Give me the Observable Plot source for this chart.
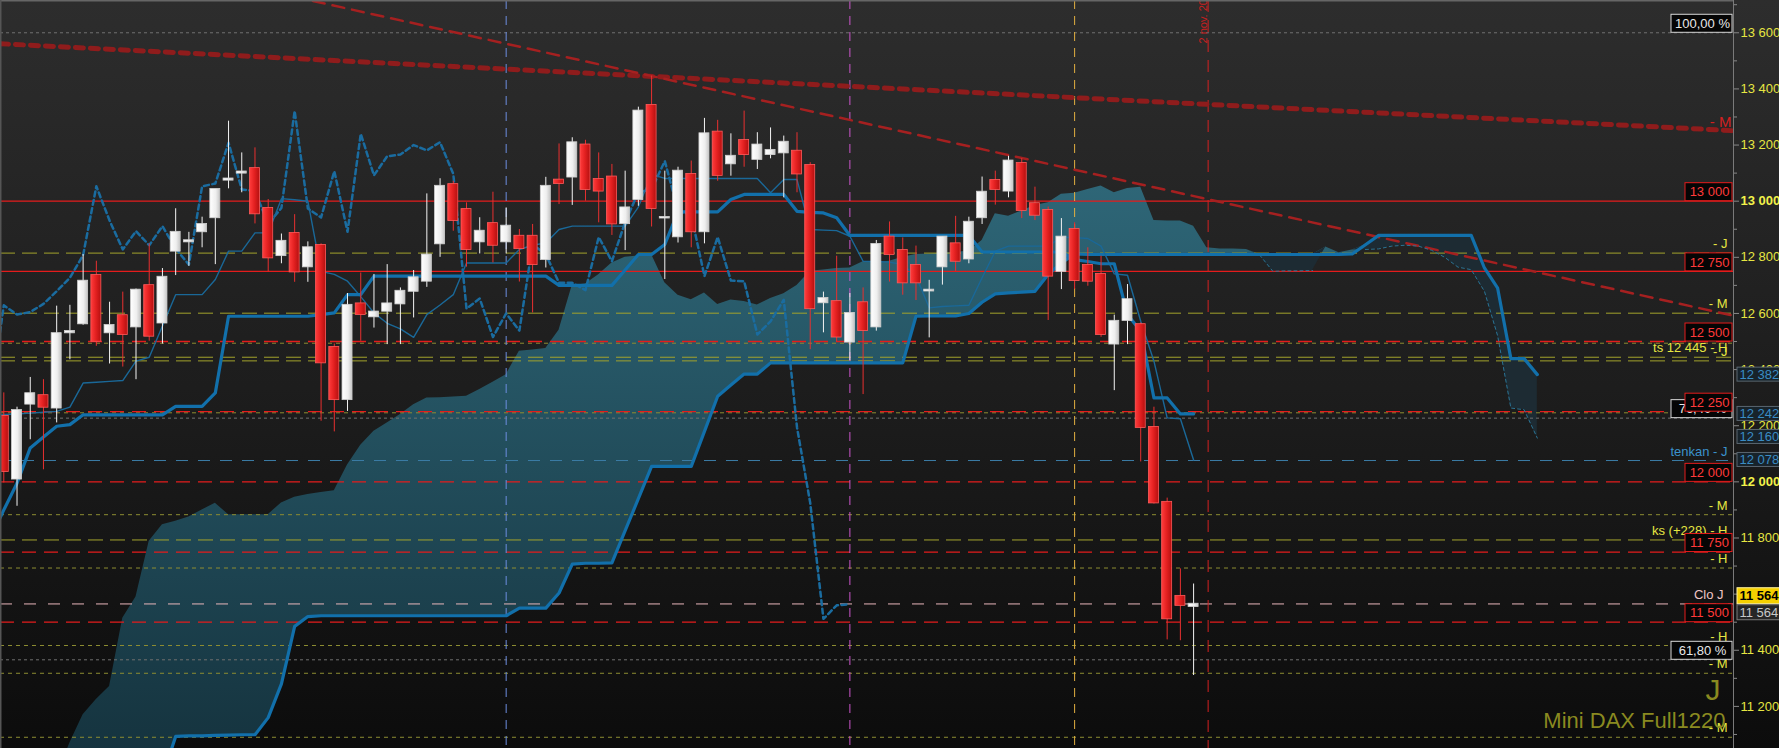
<!DOCTYPE html>
<html>
<head>
<meta charset="utf-8">
<script src="https://cdn.jsdelivr.net/npm/d3@7"></script>
<script src="https://cdn.jsdelivr.net/npm/@observablehq/plot@0.6"></script>
<style>
  html, body { margin: 0; padding: 0; background: #111; overflow: hidden; }
  #chart { width: 1779px; height: 748px; overflow: hidden; }
</style>
</head>
<body>
<div id="chart"></div>
<script>
// daily candles, index 0..90
const opens = [12233,12010,12277,12307,12263,12531,12563,12735,12531,12592,
  12552,12699,12566,12822,12855,12891,12941,13075,13100,13116,
  12974,12806,12885,12766,12842,12479,12293,12634,12588,12608,
  12634,12679,12715,12848,13059,12970,12855,12920,12855,12875,
  12875,12792,13075,13086,13200,13077,13086,12920,13006,13341,
  12940,12873,13095,12891,13246,13133,13216,13149,13166,13172,
  13178,13127,12638,12642,12498,12638,12552,12872,12824,12771,
  12680,12766,12848,12794,12941,13074,13036,13134,12991,12967,
  12750,12899,12771,12739,12491,12575,12560,12194,11927,11592,
  11556];
const highs = [12317,12266,12372,12364,12626,12629,12810,12786,12640,12676,
  12687,12848,12760,12973,12889,12943,13042,13285,13172,13190,
  13006,12883,12952,12855,12848,12491,12671,12744,12739,12774,
  12691,12753,13026,13080,13071,12994,12941,13032,12976,12899,
  12917,13085,13204,13226,13217,13172,13131,13107,13335,13446,
  13107,13121,13143,13295,13288,13240,13321,13244,13261,13232,
  13244,13137,12676,12804,12671,12691,12860,12926,12869,12840,
  12718,12872,12946,12943,13086,13107,13160,13152,13050,12979,
  12938,12923,12834,12804,12594,12703,12566,12266,11942,11690,
  11636];
const lows = [11996,11913,12150,12043,12210,12435,12558,12483,12420,12409,
  12364,12501,12491,12735,12768,12834,12774,13044,13030,12919,
  12748,12777,12711,12711,12216,12178,12251,12501,12548,12489,
  12489,12584,12693,12800,12893,12765,12812,12780,12812,12712,
  12602,12762,12988,12985,13000,12923,12878,12824,12982,12908,
  12721,12851,12834,12848,13071,13089,13121,13113,13151,13012,
  13030,12471,12531,12499,12432,12311,12537,12712,12665,12646,
  12513,12701,12750,12777,12917,12986,13012,12938,12931,12575,
  12685,12685,12697,12515,12325,12489,12071,11921,11437,11434,
  11310];
const closes = [12037,12254,12314,12266,12528,12536,12715,12501,12557,12525,
  12683,12519,12729,12889,12859,12917,13042,13079,13104,12955,
  12798,12857,12748,12834,12424,12293,12629,12596,12605,12634,
  12679,12727,12808,13053,12931,12828,12893,12843,12911,12831,
  12774,13053,13063,13208,13042,13036,12919,12976,13321,12974,
  12942,13107,12891,13240,13092,13160,13166,13200,13181,13210,
  13097,12617,12653,12516,12600,12539,12846,12810,12709,12709,
  12683,12872,12786,12925,13032,13042,13143,12967,12950,12733,
  12872,12717,12715,12525,12572,12649,12194,11925,11512,11560,
  11564];

// tenkan and kijun, index -1..90
const lineStart = -1;
const tenkan = [12235,12240,12242,12245,12248,12251,12266,12352,12355,12358,
  12361,12430,12444,12555,12667,12667,12667,12721,12822,12822,
  12887,12887,13009,13005,13000,12750,12739,12715,12660,12602,
  12565,12545,12515,12596,12630,12667,12780,12780,12780,12780,
  12828,12843,12851,12899,12911,12911,12911,12911,12911,12979,
  13095,13081,13081,13081,13081,13081,13081,13081,13081,13030,
  13077,13077,12899,12897,12895,12875,12786,12785,12783,12774,
  12733,12620,12625,12627,12629,12727,12822,12840,12840,12840,
  12840,12872,12870,12867,12840,12741,12736,12572,12430,12228,
  12225,12078];
const kijun = [11800,11900,11995,12121,12160,12198,12204,12239,12239,12239,
  12239,12239,12239,12239,12269,12269,12269,12317,12590,12590,
  12590,12590,12590,12590,12590,12596,12602,12667,12667,12733,
  12733,12733,12733,12733,12733,12733,12733,12733,12733,12733,
  12733,12733,12733,12700,12700,12700,12700,12700,12755,12810,
  12810,12846,12962,12962,12962,12962,13006,13024,13024,13024,
  13024,12964,12960,12958,12941,12878,12878,12878,12878,12878,
  12878,12878,12878,12878,12878,12819,12819,12819,12819,12819,
  12819,12819,12792,12785,12777,12777,12596,12537,12299,12299,
  12242,12242].slice(0, 92);

// cloud spans, index 4..116
const cloudStart = 4;
const spanA = [10950,11070,11170,11225,11271,11514,11590,11788,11847,11860,
  11875,11900,11924,11883,11883,11883,11883,11925,11945,11955,
  11962,11968,12060,12130,12180,12210,12240,12275,12299,12300,
  12302,12305,12329,12355,12382,12465,12470,12475,12540,12700,
  12705,12738,12780,12800,12805,12810,12709,12665,12649,12673,
  12632,12648,12643,12630,12653,12670,12700,12750,12755,12760,
  12762,12784,12780,12786,12800,12810,12812,12815,12818,12822,
  12860,12955,12946,12965,12985,12994,13025,13028,13042,13054,
  13030,13045,13050,12931,12929,12929,12911,12834,12830,12830,
  12828,12808,12750,12752,12752,12753,12837,12816,12826,12828,
  12830,12840,12843,12840,12825,12800,12765,12756,12679,12520,
  12263,12257,12156];
const spanB = [10950,10950,10950,10950,10950,10950,10950,10950,10950,11093,
  11095,11095,11097,11098,11099,11099,11160,11280,11485,11520,
  11523,11523,11523,11523,11523,11523,11523,11523,11523,11523,
  11523,11523,11523,11523,11523,11550,11550,11550,11604,11707,
  11710,11710,11711,11826,11940,12055,12055,12055,12055,12180,
  12305,12345,12384,12384,12424,12424,12424,12424,12424,12424,
  12424,12424,12424,12424,12424,12590,12591,12591,12591,12600,
  12640,12670,12673,12676,12679,12739,12780,12812,12810,12810,
  12810,12810,12810,12810,12810,12810,12810,12810,12810,12810,
  12810,12810,12810,12810,12810,12810,12810,12810,12812,12845,
  12878,12878,12878,12878,12878,12878,12878,12878,12762,12690,
  12439,12439,12382];

// horizontal levels
const roundSolid = [13000, 12750];
const roundDashed = [12500, 12250, 12000, 11750, 11500];
const pivotLong = [12815, 12601, 12444, 12431, 11793];
const pivotFine = [12494, 12246, 11883, 11693, 11417, 11318, 11090];
const fibLevels = [13600, 12227, 11366];
const fibTexts = ["100,00 %", "76,40 %", "61,80 %"];
const tenkanLevel = [12076];
const closeLevel = [11565];

const pivotTags = [
  {v: 12815, t: "- J"}, {v: 12601, t: "- M"}, {v: 12444, t: "ts 12 445 - H"}, {v: 12431, t: "- J"},
  {v: 11883, t: "- M"}, {v: 11793, t: "ks (+228) - H"}, {v: 11693, t: "- H"},
  {v: 11417, t: "- H"}, {v: 11318, t: "- M"}, {v: 11090, t: "- M"}
];
const ichiTags = [{v: 12382, t: "12 382"}, {v: 12242, t: "12 242"}, {v: 12160, t: "12 160"}, {v: 12078, t: "12 078"}];
const lastPrice = 11564;

// vertical markers (bar index)
const vMarks = [38, 64, 81, 91.1];
const dateText = "2 nov. 2020";

// trend lines: price at left edge and at right edge
const trendLong = [13561, 13251];
const trendShort = [13960, 12592];

const tickMajor = [11200, 11400, 11600, 11800, 12200, 12400, 12600, 12800, 13200, 13400, 13600];
const tickBold = [12000, 13000];
const tickMinor = [11100, 11300, 11500, 11700, 11900, 12100, 12300, 12500, 12700, 12900, 13100, 13300, 13500, 13700];

const xLeft = -0.25, xRight = 130.84;
const fmt = v => d3.format(",")(v).replace(/,/g, " ");

const candles = opens.map((o, i) => ({i, o, h: highs[i], l: lows[i], c: closes[i]}));
const upC = candles.filter(d => d.c >= d.o);
const downC = candles.filter(d => d.c < d.o);
const cloud = spanA.map((a, k) => ({i: k + cloudStart, a, b: spanB[k]}));
const tenkanData = tenkan.map((v, k) => ({i: k + lineStart, v}));
const kijunData = kijun.map((v, k) => ({i: k + lineStart, v}));
const chikouData = closes.slice(25).map((v, k) => ({i: k - 1, v}));
const edge = [xLeft, xRight];
const longData = trendLong.map((v, k) => ({x: edge[k], v}));
const shortData = trendShort.map((v, k) => ({x: edge[k], v}));
const roundTags = roundSolid.concat(roundDashed).map(v => ({v, t: fmt(v)}));
const fibTags = fibLevels.map((v, k) => ({v, t: fibTexts[k]}));

function defs() {
  const d = document.createElementNS("http://www.w3.org/2000/svg", "defs");
  d.innerHTML = `
    <linearGradient id="gRed" x1="0" x2="1" y1="0" y2="0">
      <stop offset="0" stop-color="#ff3c3c"/><stop offset="0.5" stop-color="#e32020"/><stop offset="1" stop-color="#b41010"/>
    </linearGradient>
    <linearGradient id="gWhite" x1="0" x2="1" y1="0" y2="0">
      <stop offset="0" stop-color="#ffffff"/><stop offset="0.6" stop-color="#eeeeee"/><stop offset="1" stop-color="#c6c6c6"/>
    </linearGradient>
    <linearGradient id="gCloud" x1="0" x2="0" y1="0" y2="1">
      <stop offset="0" stop-color="#2e6677"/><stop offset="1" stop-color="#14313c"/>
    </linearGradient>`;
  return d;
}

const rx = () => xRight;
const yellow = "#e6e642";

const chart = Plot.plot({
  width: 1779,
  height: 748,
  marginLeft: 0,
  marginRight: 46,
  marginTop: 0,
  marginBottom: 0,
  x: {type: "linear", domain: [xLeft, xRight], axis: null},
  y: {domain: [11050, 13715], axis: null},
  style: {
    background: "linear-gradient(to bottom, #2d2d2d 0%, #1c1c1c 55%, #0c0c0c 100%)",
    color: yellow,
    fontFamily: "'Liberation Sans', Arial, sans-serif",
    fontSize: "13px"
  },
  marks: [
    defs,
    // cloud
    Plot.areaY(cloud, {x: "i", y1: "b", y2: d => Math.max(d.a, d.b), fill: "url(#gCloud)", clip: true}),
    Plot.areaY(cloud, {x: "i", y1: "a", y2: d => Math.max(d.a, d.b), fill: "#1d2b33", clip: true}),
    // horizontal levels
    Plot.ruleY(fibLevels, {stroke: "#707070", strokeDasharray: "3,3"}),
    Plot.ruleY(pivotFine, {stroke: "#8d8d32", strokeDasharray: "4,4"}),
    Plot.ruleY(pivotLong, {stroke: "#a3a32c", strokeDasharray: "15,7"}),
    Plot.ruleY(tenkanLevel, {stroke: "#3b7ca6", strokeDasharray: "12,10"}),
    Plot.ruleY(closeLevel, {stroke: "#e9b6bc", strokeDasharray: "12,12"}),
    Plot.ruleY(roundDashed, {stroke: "#e41c1c", strokeWidth: 1.3, strokeDasharray: "14,8"}),
    Plot.ruleY(roundSolid, {stroke: "#e41c1c", strokeWidth: 1.3}),
    // vertical markers
    Plot.ruleX([vMarks[0]], {stroke: "#6d8ee0", strokeDasharray: "9,7"}),
    Plot.ruleX([vMarks[1]], {stroke: "#cc55cc", strokeDasharray: "9,7"}),
    Plot.ruleX([vMarks[2]], {stroke: "#e2b040", strokeDasharray: "9,7"}),
    Plot.ruleX([vMarks[3]], {stroke: "#d42020", strokeDasharray: "12,8"}),
    Plot.text([dateText], {x: () => vMarks[3], frameAnchor: "top", dy: 43, dx: -9, rotate: -90,
      text: d => d, textAnchor: "start", fill: "#c82020", fontSize: 11}),
    // trend lines
    Plot.line(longData, {x: "x", y: "v", stroke: "#8f1c1c", strokeWidth: 5, strokeDasharray: "8,7", clip: true}),
    Plot.line(shortData, {x: "x", y: "v", stroke: "#a52020", strokeWidth: 2.5, strokeDasharray: "12,8", clip: true}),
    // ichimoku lines
    Plot.line(cloud, {x: "i", y: d => d.a <= d.b + 3 ? d.a : NaN, stroke: "#2a7495", strokeWidth: 1, strokeDasharray: "3,3", clip: true}),
    Plot.line(cloud, {x: "i", y: "b", stroke: "#1270ab", strokeWidth: 3.2, clip: true}),
    Plot.line(chikouData, {x: "i", y: "v", stroke: "#1a6ca0", strokeWidth: 2.5, strokeDasharray: "5,3.5", clip: true}),
    Plot.line(tenkanData, {x: "i", y: "v", stroke: "#1a6898", strokeWidth: 1.4, clip: true}),
    Plot.line(kijunData, {x: "i", y: "v", stroke: "#1270ab", strokeWidth: 3.2, clip: true}),
    // candles
    Plot.ruleX(downC, {x: "i", y1: "l", y2: "h", stroke: "#e83030", clip: true}),
    Plot.ruleX(upC, {x: "i", y1: "l", y2: "h", stroke: "#f4f4f4", clip: true}),
    Plot.rect(downC, {x1: "i", x2: "i", y1: "o", y2: "c", insetLeft: -5, insetRight: -5, insetTop: -0.5, insetBottom: -0.5,
      fill: "url(#gRed)", stroke: "#ff5a5a", strokeWidth: 0.8, clip: true}),
    Plot.rect(upC, {x1: "i", x2: "i", y1: "o", y2: "c", insetLeft: -5, insetRight: -5, insetTop: -0.5, insetBottom: -0.5,
      fill: "url(#gWhite)", stroke: "#d0d0d0", strokeWidth: 0.8, clip: true}),
    // right axis
    Plot.ruleX([xRight], {stroke: "#7a7a7a"}),
    Plot.ruleY([13715], {stroke: "#666", strokeWidth: 2}),
    Plot.ruleX([xLeft], {stroke: "#555", strokeWidth: 2}),
    Plot.axisY(tickMinor, {anchor: "right", tickSize: 3, tickFormat: () => "", stroke: "#888", label: null}),
    Plot.axisY(tickMajor, {anchor: "right", tickSize: 5, tickPadding: 2, tickFormat: fmt, stroke: "#888", fill: yellow, label: null}),
    Plot.axisY(tickBold, {anchor: "right", tickSize: 5, tickPadding: 2, tickFormat: fmt, stroke: "#888", fill: "#f2f24a", fontWeight: "bold", label: null}),
    // level tags inside the frame
    Plot.text(pivotTags, {x: rx, y: "v", text: "t", dx: -6, dy: -9, textAnchor: "end", fill: yellow}),
    Plot.text(tenkanLevel, {x: rx, y: d => d, text: () => "tenkan - J", dx: -6, dy: -9, textAnchor: "end", fill: "#3a92cc"}),
    Plot.text(closeLevel, {x: rx, y: d => d, text: () => "Clo J", dx: -10, dy: -9, textAnchor: "end", fill: "#f0c6c6"}),
    Plot.text([trendLong[1]], {x: rx, y: d => d, text: () => "- M", dx: -2, dy: -9, textAnchor: "end", fill: "#d42020", fontSize: 15}),
    // fibonacci boxes
    Plot.rect(fibTags, {x1: rx, x2: rx, y1: "v", y2: "v", insetLeft: -62, insetRight: 1, insetTop: -18, insetBottom: 0, fill: "#050505", stroke: "#d8d8d8"}),
    Plot.text(fibTags, {x: rx, y: "v", text: "t", dx: -31, dy: -9, fill: "#e8e8e8"}),
    // round number boxes
    Plot.rect(roundTags, {x1: rx, x2: rx, y1: "v", y2: "v", insetLeft: -48, insetRight: 1, insetTop: -18, insetBottom: 0, fill: "#050505", stroke: "#e41c1c"}),
    Plot.text(roundTags, {x: rx, y: "v", text: "t", dx: -24, dy: -9, fill: "#ff3a3a"}),
    // boxes in the axis gutter
    Plot.rect(ichiTags, {x1: rx, x2: rx, y1: "v", y2: "v", insetLeft: 4, insetRight: -48, insetTop: -7, insetBottom: -7, fill: "#17232b", stroke: "#5a6670"}),
    Plot.text(ichiTags, {x: rx, y: "v", text: "t", dx: 6, textAnchor: "start", fill: "#3a8cc4"}),
    Plot.rect([lastPrice], {x1: rx, x2: rx, y1: d => d, y2: d => d, insetLeft: 4, insetRight: -48, insetTop: -16, insetBottom: 0, fill: "#f5d000", stroke: "#fff2a0"}),
    Plot.text([lastPrice], {x: rx, y: d => d, text: fmt, dx: 6, dy: -8, textAnchor: "start", fill: "#000", fontWeight: "bold"}),
    Plot.rect([lastPrice], {x1: rx, x2: rx, y1: d => d, y2: d => d, insetLeft: 4, insetRight: -48, insetTop: 1, insetBottom: -16, fill: "#262626", stroke: "#7a7a7a"}),
    Plot.text([lastPrice], {x: rx, y: d => d, text: fmt, dx: 6, dy: 9, textAnchor: "start", fill: "#c8c8c8"}),
    // watermark
    Plot.text(["J"], {frameAnchor: "bottom-right", text: d => d, dx: -13, dy: -49, textAnchor: "end", fill: "#8a8a20", fontSize: 30}),
    Plot.text(["Mini DAX Full1220"], {frameAnchor: "bottom-right", text: d => d, dx: -8, dy: -21, textAnchor: "end", fill: "#8a8a20", fontSize: 22})
  ]
});

document.getElementById("chart").appendChild(chart);
</script>
</body>
</html>
